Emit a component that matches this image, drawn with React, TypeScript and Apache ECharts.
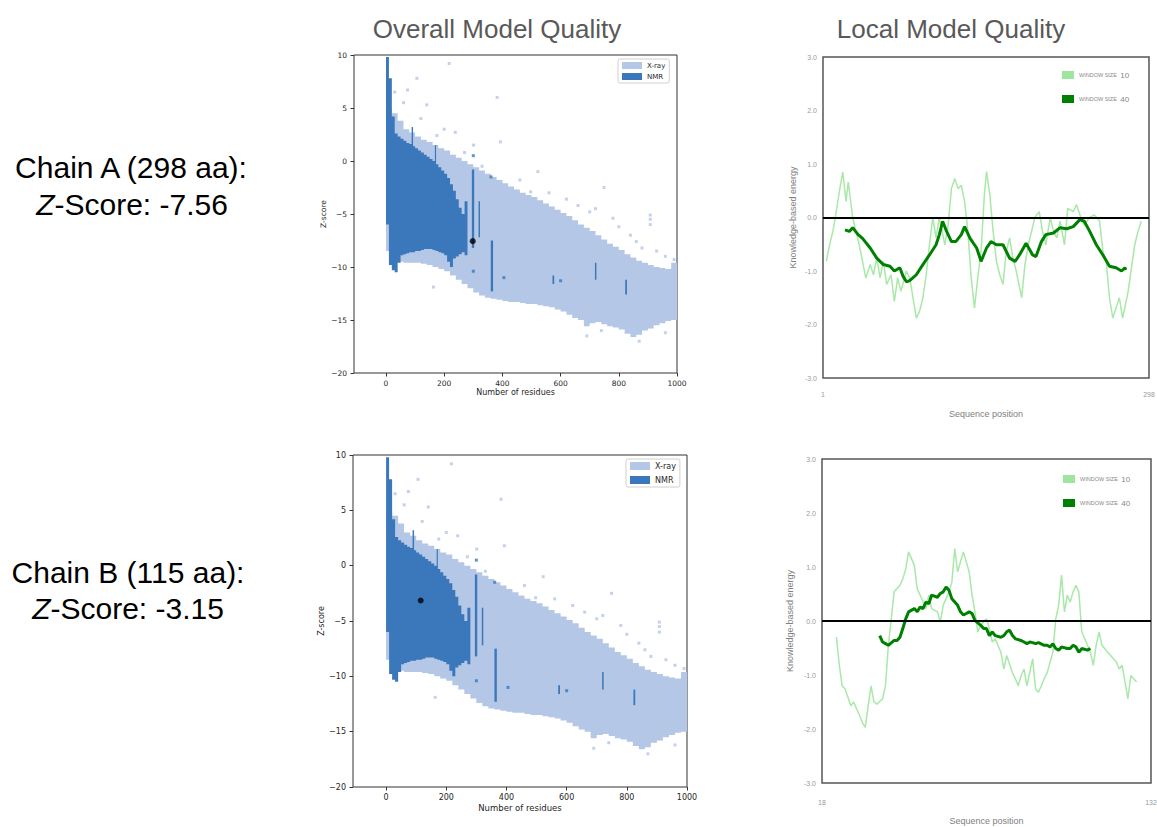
import React, { useEffect, useRef } from 'react';
import * as echarts from 'echarts';

// ---------- data ----------
const residueTicks = [0, 200, 400, 600, 800, 1000];
const chainALabels = [1, 298];
const chainBLabels = [18, 132];

// X-ray density envelope: [bin start (residues), lowest Z, highest Z]  (bin width 20)
const xrayBins: number[][] = [
  [0, -8.5, 5], [20, -9.5, 4.5], [40, -9.5, 3.8], [60, -9.6, 3.0], [80, -9.6, 2.7],
  [100, -9.6, 2.3], [120, -9.7, 2.0], [140, -9.8, 1.8], [160, -10, 1.5], [180, -10.2, 1.2],
  [200, -10.4, 1.0], [220, -10.8, 0.6], [240, -11.2, 0.3], [260, -11.6, 0.0], [280, -12.0, -0.3],
  [300, -12.4, -0.6], [320, -12.7, -0.9], [340, -12.9, -1.2], [360, -13.0, -1.5], [380, -13.1, -1.8],
  [400, -13.2, -2.1], [420, -13.3, -2.4], [440, -13.3, -2.7], [460, -13.4, -3.0], [480, -13.5, -3.2],
  [500, -13.5, -3.4], [520, -13.6, -3.7], [540, -13.7, -4.0], [560, -13.8, -4.3], [580, -14.0, -4.6],
  [600, -14.2, -4.9], [620, -14.5, -5.2], [640, -14.8, -5.6], [660, -15.0, -6.0], [680, -15.6, -6.3],
  [700, -15.3, -6.6], [720, -15.2, -7.0], [740, -15.4, -7.4], [760, -15.6, -7.8], [780, -15.7, -8.1],
  [800, -15.9, -8.4], [820, -16.3, -8.8], [840, -16.6, -9.1], [860, -16.4, -9.4], [880, -16.0, -9.6],
  [900, -15.8, -9.8], [920, -15.5, -10.0], [940, -15.3, -10.1], [960, -15.1, -10.2], [980, -15.0, -9.6],
];

// NMR density envelope: [bin start, lowest Z, highest Z]  (bin width 10)
const nmrBins: number[][] = [
  [0, -6, 9.8], [10, -9.8, 7.8], [20, -10.3, 4.2], [30, -10.5, 2.6], [40, -9.6, 2.3],
  [50, -8.9, 2.1], [60, -8.8, 1.9], [70, -8.7, 1.7], [80, -8.6, 1.6], [90, -8.6, 1.4],
  [100, -8.5, 1.2], [110, -8.5, 1.0], [120, -8.4, 0.8], [130, -8.3, 0.6], [140, -8.3, 0.4],
  [150, -8.3, 0.2], [160, -8.4, 0.0], [170, -8.5, -0.3], [180, -8.6, -0.6], [190, -8.7, -0.9],
  [200, -8.9, -1.2], [210, -9.5, -1.6], [220, -10.0, -2.2], [230, -9.2, -2.8], [240, -9.0, -3.6],
  [250, -8.8, -4.4], [260, -8.6, -5.0], [270, -8.9, -3.8],
];

// NMR streaks: [x start, lowest Z, highest Z, width]
const nmrStreaks: number[][] = [
  [88, -1, 3.2, 5], [168, -2, 1.5, 4], [295, -8.2, -0.8, 8], [318, -7.2, -3.8, 5],
  [360, -12.3, -7.5, 8], [572, -11.6, -10.8, 6], [718, -11.2, -9.6, 5], [822, -12.6, -11.2, 6],
];

// scattered X-ray outliers [residues, Z]
const xrayOutliers: number[][] = [
  [30, 6.5], [60, 5.5], [74, 6.7], [106, 7.8], [120, 4.0], [140, 5.3], [175, 2.4], [200, 3.0],
  [217, 9.2], [238, 2.7], [270, 0.8], [301, 1.5], [330, -0.5], [382, 6.0], [393, 1.8], [460, -1.8],
  [497, -2.9], [522, -1.0], [560, -3.0], [620, -3.6], [660, -4.2], [700, -4.8], [720, -4.5],
  [749, -2.5], [780, -5.4], [800, -6.2], [840, -7.0], [860, -7.6], [880, -8.2], [908, -5.1],
  [908, -5.5], [908, -6.0], [930, -8.5], [960, -9.0], [990, -9.3], [163, -11.9], [692, -9.2],
  [690, -16.5], [740, -16.0], [870, -17.0], [960, -16.2],
];
const nmrOutliers: number[][] = [[300, 0.5], [361, -1.5], [300, -10.4], [405, -11.0], [600, -11.3]];

const chainAScore = [298, -7.56];
const chainBScore = [115, -3.15];

// Local quality, chain A (positions 1..298)
const chainAWin10: number[][] = [
  [4, -0.82], [7, -0.51], [10, -0.26], [13, 0.1], [16, 0.5], [19, 0.85], [22, 0.3], [24, 0.66], [25, 0.5],
  [28, 0.0], [31, -0.26], [34, -0.51], [37, -0.82], [40, -1.13], [44, -0.88], [47, -1.07], [50, -0.76],
  [53, -1.13], [56, -0.82], [59, -1.25], [63, -1.07], [66, -1.57], [69, -1.13], [72, -1.38], [77, -1.0],
  [80, -1.13], [83, -1.5], [86, -1.88], [89, -1.75], [92, -1.5], [95, -1.07], [98, -0.51], [101, 0.0],
  [104, -0.38], [107, 0.0], [112, -0.51], [115, -0.14], [118, 0.54], [121, 0.73], [124, 0.54], [127, 0.6],
  [130, 0.3], [133, -0.26], [136, -1.13], [139, -1.69], [142, -1.13], [145, -0.63], [148, 0.42], [150, 0.86],
  [153, 0.42], [156, -0.26], [159, -0.82], [162, -1.07], [165, -1.25], [168, -0.63], [171, -0.38], [174, -0.76],
  [177, -1.0], [182, -1.5], [185, -0.88], [188, -0.51], [191, -0.26], [194, 0.0], [198, 0.11], [201, -0.26],
  [204, -0.51], [208, 0.0], [211, -0.26], [214, -0.38], [217, -0.07], [221, -0.51], [224, 0.17], [229, 0.11],
  [232, 0.24], [235, 0.05], [239, -0.14], [244, 0.0], [248, 0.05], [253, -0.07], [256, -0.63], [259, -0.82],
  [262, -1.5], [265, -1.88], [268, -1.69], [271, -1.5], [274, -1.88], [279, -1.38], [282, -0.94], [285, -0.51],
  [288, -0.26], [291, -0.07],
];
const chainAWin40: number[][] = [
  [21, -0.23], [25, -0.26], [28, -0.19], [33, -0.32], [37, -0.39], [44, -0.57], [50, -0.76], [56, -0.88],
  [62, -0.91], [66, -1.0], [71, -0.94], [74, -1.1], [77, -1.2], [80, -1.18], [86, -1.07], [92, -0.88],
  [98, -0.7], [104, -0.51], [107, -0.32], [110, -0.07], [113, -0.23], [118, -0.45], [122, -0.45], [127, -0.32],
  [130, -0.17], [135, -0.39], [141, -0.57], [145, -0.82], [150, -0.57], [154, -0.45], [159, -0.51], [165, -0.51],
  [171, -0.76], [176, -0.82], [180, -0.7], [186, -0.48], [192, -0.7], [195, -0.73], [200, -0.45], [204, -0.32],
  [211, -0.29], [217, -0.19], [223, -0.21], [229, -0.17], [235, -0.04], [239, -0.07], [244, -0.26], [250, -0.51],
  [256, -0.7], [262, -0.91], [268, -0.94], [273, -1.0], [276, -0.94], [277, -0.98],
];

// Local quality, chain B (positions 18..132)
const chainBWin10: number[][] = [
  [23, -0.3], [24, -0.82], [25, -1.2], [26, -1.26], [28, -1.57], [29, -1.5], [30, -1.63], [31, -1.75],
  [32, -1.88], [33, -1.97], [34, -1.57], [35, -1.2], [36, -1.5], [37, -1.54], [39, -1.44], [40, -1.2],
  [41, -0.45], [42, 0.04], [43, 0.54], [45, 0.66], [46, 0.78], [47, 0.96], [48, 1.28], [50, 1.03],
  [51, 0.6], [52, 0.48], [54, 0.23], [55, 0.48], [56, 0.23], [58, 0.17], [59, -0.02], [60, 0.29],
  [62, 0.54], [63, 0.72], [64, 1.34], [65, 0.91], [66, 1.1], [67, 1.28], [69, 0.91], [70, 0.48],
  [71, 0.17], [72, -0.2], [73, -0.08], [75, 0.04], [76, -0.14], [77, -0.39], [78, -0.33], [80, -0.58],
  [81, -0.89], [82, -0.64], [84, -0.96], [85, -1.07], [86, -1.2], [87, -1.01], [88, -0.89], [89, -1.2],
  [91, -0.7], [92, -1.26], [93, -1.32], [94, -1.2], [95, -1.07], [96, -0.96], [98, -0.58], [99, 0.04],
  [100, 0.29], [101, 0.85], [102, 0.17], [103, 0.48], [104, 0.35], [105, 0.54], [106, 0.66], [107, 0.54],
  [108, -0.2], [110, -0.45], [111, -0.58], [112, -0.82], [113, -0.45], [114, -0.2], [115, -0.45], [117, -0.58],
  [118, -0.64], [119, -0.7], [120, -0.76], [121, -0.89], [122, -0.82], [124, -1.44], [125, -1.01], [126, -1.07],
  [127, -1.13],
];
const chainBWin40: number[][] = [
  [38, -0.27], [39, -0.39], [40, -0.42], [41, -0.45], [43, -0.36], [44, -0.36], [45, -0.3], [46, -0.14],
  [47, 0.04], [48, 0.17], [50, 0.23], [51, 0.17], [52, 0.26], [53, 0.23], [54, 0.35], [55, 0.32],
  [56, 0.48], [58, 0.44], [59, 0.51], [60, 0.54], [61, 0.63], [62, 0.57], [63, 0.41], [65, 0.29],
  [66, 0.17], [67, 0.11], [68, 0.14], [69, 0.17], [70, 0.14], [71, 0.01], [73, -0.08], [74, -0.14],
  [75, -0.14], [76, -0.27], [77, -0.2], [78, -0.27], [80, -0.3], [81, -0.27], [82, -0.2], [83, -0.17],
  [84, -0.27], [85, -0.33], [87, -0.36], [88, -0.39], [89, -0.42], [90, -0.39], [91, -0.4], [92, -0.42],
  [93, -0.4], [95, -0.45], [96, -0.45], [97, -0.48], [98, -0.42], [99, -0.51], [100, -0.54], [101, -0.48],
  [103, -0.51], [104, -0.51], [105, -0.45], [106, -0.48], [107, -0.58], [108, -0.51], [110, -0.54], [111, -0.51],
];

// ---------- styles ----------
const XRAY = '#b4c7e6';
const NMR = '#3a78bb';
const LIGHT_GREEN = '#9ee69e';
const DARK_GREEN = '#008000';
const MPL_FONT = 'DejaVu Sans';
const SANS = '"Liberation Sans", Arial, sans-serif';

// density envelope drawn as one stepped polygon through the axis scales
const envelopeSeries = (name: string, bins: number[][], width: number, color: string, idx: number, z: number) => ({
  type: 'custom',
  name,
  xAxisIndex: idx,
  yAxisIndex: idx,
  clip: true,
  silent: true,
  z,
  itemStyle: { color },
  data: [[bins[0][0], bins[0][1], bins[0][2]]],
  encode: { x: 0, y: [1, 2] },
  renderItem: (_params: any, api: any) => {
    const top: number[][] = [];
    const bottom: number[][] = [];
    bins.forEach((b) => {
      top.push(api.coord([b[0], b[2]]), api.coord([b[0] + width, b[2]]));
      bottom.push(api.coord([b[0], b[1]]), api.coord([b[0] + width, b[1]]));
    });
    return {
      type: 'polygon',
      shape: { points: top.concat(bottom.reverse()) },
      style: { fill: color },
    };
  },
});

const streakSeries = (name: string, bins: number[][], color: string, idx: number, z: number) => ({
  type: 'custom',
  name,
  xAxisIndex: idx,
  yAxisIndex: idx,
  clip: true,
  silent: true,
  z,
  itemStyle: { color },
  data: bins,
  encode: { x: 0, y: [1, 2] },
  renderItem: (_params: any, api: any) => {
    const a = api.coord([api.value(0), api.value(2)]);
    const b = api.coord([api.value(0) + api.value(3), api.value(1)]);
    return {
      type: 'rect',
      shape: { x: a[0], y: a[1], width: b[0] - a[0], height: b[1] - a[1] },
      style: { fill: color },
    };
  },
});

const scatterSeries = (idx: number, score: number[]) => [
  envelopeSeries('X-ray', xrayBins, 20, XRAY, idx, 1),
  {
    type: 'scatter', name: 'X-ray outliers', xAxisIndex: idx, yAxisIndex: idx, silent: true, z: 1,
    symbol: 'rect', symbolSize: 3, itemStyle: { color: XRAY }, data: xrayOutliers,
  },
  envelopeSeries('NMR', nmrBins, 10, NMR, idx, 2),
  streakSeries('NMR', nmrStreaks, NMR, idx, 2),
  {
    type: 'scatter', name: 'NMR outliers', xAxisIndex: idx, yAxisIndex: idx, silent: true, z: 2,
    symbol: 'rect', symbolSize: 3, itemStyle: { color: NMR }, data: nmrOutliers,
  },
  {
    type: 'scatter', name: 'Z-score', xAxisIndex: idx, yAxisIndex: idx, silent: true, z: 5,
    symbol: 'circle', symbolSize: 6, itemStyle: { color: '#000' }, data: [score],
  },
];

const localSeries = (idx: number, w10: number[][], w40: number[][]) => [
  {
    type: 'line', name: 'window size 10', xAxisIndex: idx, yAxisIndex: idx, showSymbol: false, silent: true,
    z: 2, itemStyle: { color: LIGHT_GREEN }, lineStyle: { color: LIGHT_GREEN, width: 1.5, opacity: 0.9 },
    data: w10,
  },
  {
    type: 'line', name: 'window size 40', xAxisIndex: idx, yAxisIndex: idx, showSymbol: false, silent: true,
    z: 3, itemStyle: { color: DARK_GREEN }, lineStyle: { color: DARK_GREEN, width: 3 }, data: w40,
    markLine: {
      silent: true, symbol: 'none', label: { show: false },
      lineStyle: { color: '#000', width: 2, type: 'solid' },
      data: [{ yAxis: 0 }],
    },
  },
];

const minusFmt = (v: number) => (v < 0 ? '\u2212' + Math.abs(v) : String(v));

const scatterX = (idx: number, fs: number, gap: number, margin: number) => ({
  type: 'value', gridIndex: idx, min: -110, max: 1000,
  name: 'Number of residues', nameLocation: 'middle', nameGap: gap,
  nameTextStyle: { fontSize: fs + 0.5, color: '#262626', fontFamily: MPL_FONT },
  splitLine: { show: false }, axisLine: { show: false, onZero: false },
  axisTick: { show: true, length: 3.5, lineStyle: { color: '#333' }, customValues: residueTicks },
  axisLabel: { fontSize: fs, color: '#262626', fontFamily: MPL_FONT, margin, customValues: residueTicks, formatter: (v: number) => String(v) },
});
const scatterY = (idx: number, fs: number, gap: number) => ({
  type: 'value', gridIndex: idx, min: -20, max: 10, interval: 5,
  name: 'Z-score', nameLocation: 'middle', nameGap: gap,
  nameTextStyle: { fontSize: fs, color: '#262626', fontFamily: MPL_FONT },
  splitLine: { show: false }, axisLine: { show: false, onZero: false },
  axisTick: { show: true, length: 3.5, lineStyle: { color: '#333' } },
  axisLabel: { fontSize: fs, color: '#262626', fontFamily: MPL_FONT, margin: 7, formatter: minusFmt },
});
const localX = (idx: number, min: number, max: number, labels: number[], margin: number, gap: number) => ({
  type: 'value', gridIndex: idx, min, max,
  name: 'Sequence position', nameLocation: 'middle', nameGap: gap,
  nameTextStyle: { fontSize: 9, color: '#808080', fontFamily: SANS },
  splitLine: { show: false }, axisLine: { show: false, onZero: false }, axisTick: { show: false },
  axisLabel: { fontSize: 7, color: '#999', fontFamily: SANS, margin, customValues: labels, formatter: (v: number) => String(v) },
});
const localY = (idx: number, gap: number) => ({
  type: 'value', gridIndex: idx, min: -3, max: 3, interval: 1,
  name: 'Knowledge-based energy', nameLocation: 'middle', nameGap: gap,
  nameTextStyle: { fontSize: 9, color: '#808080', fontFamily: SANS },
  splitLine: { show: false }, axisLine: { show: false, onZero: false }, axisTick: { show: false },
  axisLabel: { fontSize: 7, color: '#999', fontFamily: SANS, margin: 6, formatter: (v: number) => v.toFixed(1) },
});

const scatterLegend = (left: number, top: number, fs: number, h: number, gap: number) => ({
  left, top, orient: 'vertical', data: ['X-ray', 'NMR'], icon: 'rect', selectedMode: false,
  itemWidth: 20, itemHeight: h, itemGap: gap, padding: [3, 4, 3, 4],
  borderColor: '#d0d0d0', borderWidth: 1, borderRadius: 2, backgroundColor: '#fff',
  textStyle: { fontSize: fs, color: '#262626', fontFamily: MPL_FONT },
});
const windowLegend = (left: number, top: number) => ({
  left, top, orient: 'vertical', data: ['window size 10', 'window size 40'], icon: 'rect', selectedMode: false,
  itemWidth: 12, itemHeight: 8, itemGap: 12, padding: 0,
  formatter: (n: string) => '{s|WINDOW SIZE} {n|' + n.replace('window size ', '') + '}',
  textStyle: {
    color: '#888', fontFamily: SANS,
    rich: { s: { fontSize: 5.5, color: '#888', fontFamily: SANS }, n: { fontSize: 8, color: '#888', fontFamily: SANS } },
  },
});

const chainText = (x: number, y: number, text: string) => ({
  type: 'text', x, y, silent: true,
  style: { text, fill: '#000', font: '30px ' + SANS, align: 'center', verticalAlign: 'middle' },
});
const scoreText = (x: number, y: number, score: string) => ({
  type: 'text', x, y, silent: true,
  style: {
    text: '{i|Z}{r|-Score: ' + score + '}', align: 'center', verticalAlign: 'middle',
    fontSize: 30, fontFamily: SANS, fill: '#000',
    rich: {
      i: { fontStyle: 'italic', fontSize: 30, fontFamily: SANS, fill: '#000' },
      r: { fontSize: 30, fontFamily: SANS, fill: '#000' },
    },
  },
});

export default function App() {
  const ref = useRef<HTMLDivElement>(null);
  useEffect(() => {
    if (!ref.current) return;
    const chart = echarts.init(ref.current, null, { renderer: 'svg' });
    const option: any = {
      animation: false,
      backgroundColor: '#fff',
      grid: [
        { left: 354, top: 55, width: 323, height: 318, show: true, borderColor: '#333', borderWidth: 1, backgroundColor: 'transparent', outerBoundsMode: 'none' },
        { left: 823, top: 57, width: 326, height: 321, show: true, borderColor: '#555', borderWidth: 1.5, backgroundColor: 'transparent', outerBoundsMode: 'none' },
        { left: 353, top: 455, width: 334, height: 332, show: true, borderColor: '#333', borderWidth: 1, backgroundColor: 'transparent', outerBoundsMode: 'none' },
        { left: 822, top: 459, width: 329, height: 324, show: true, borderColor: '#555', borderWidth: 1.5, backgroundColor: 'transparent', outerBoundsMode: 'none' },
      ],
      xAxis: [
        scatterX(0, 7.5, 15, 6),
        localX(1, 1, 298, chainALabels, 13, 31),
        scatterX(2, 8, 16, 6),
        localX(3, 18, 132, chainBLabels, 16, 33),
      ],
      yAxis: [scatterY(0, 7.5, 25), localY(1, 26), scatterY(2, 8, 27), localY(3, 28)],
      legend: [
        scatterLegend(618, 59, 7, 7, 4),
        windowLegend(1062, 69),
        scatterLegend(626, 459, 8, 8, 6),
        windowLegend(1063, 473),
      ],
      series: [
        ...scatterSeries(0, chainAScore),
        ...localSeries(1, chainAWin10, chainAWin40),
        ...scatterSeries(2, chainBScore),
        ...localSeries(3, chainBWin10, chainBWin40),
      ],
      graphic: [
        { type: 'text', x: 497, y: 29, silent: true, style: { text: 'Overall Model Quality', fill: '#595959', font: '26px ' + SANS, align: 'center', verticalAlign: 'middle' } },
        { type: 'text', x: 951, y: 29, silent: true, style: { text: 'Local Model Quality', fill: '#595959', font: '26px ' + SANS, align: 'center', verticalAlign: 'middle' } },
        chainText(131, 167, 'Chain A (298 aa):'),
        scoreText(132, 204, '-7.56'),
        chainText(128, 572, 'Chain B (115 aa):'),
        scoreText(128, 608, '-3.15'),
      ],
    };
    chart.setOption(option);
    return () => chart.dispose();
  }, []);
  return (
    <div
      ref={ref}
      style={{ position: 'absolute', left: 0, top: 0, width: 1157, height: 827, background: '#fff' }}
    />
  );
}
